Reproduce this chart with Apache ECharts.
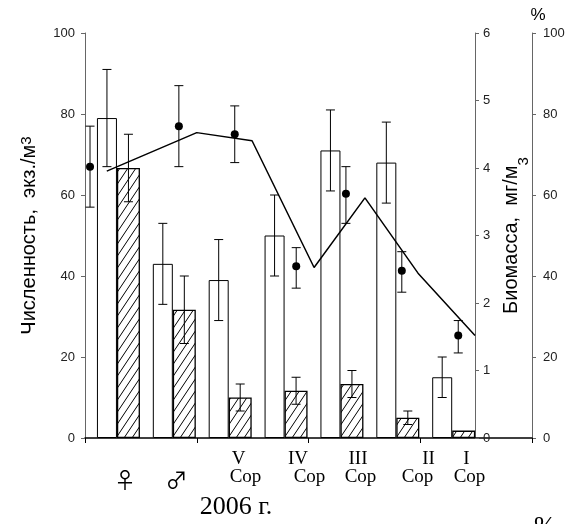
<!DOCTYPE html>
<html>
<head>
<meta charset="utf-8">
<script src="https://cdn.jsdelivr.net/npm/echarts@6/dist/echarts.min.js"></script>
<style>
html,body{margin:0;padding:0;background:#fff;}
#chart{width:565px;height:524px;}
</style>
</head>
<body>
<div id="chart"></div>
<script>
// ---------- data ----------
const categories = ['♀', '♂', 'V Cop', 'IV Cop', 'III Cop', 'II Cop', 'I Cop'];
// abundance, ind./m3 (white bars, left axis)
const abundance = [79, 43, 39, 50, 71, 68, 15];
const abundanceLow = [67, 33, 29, 40, 61, 58, 10];
const abundanceHigh = [91, 53, 49, 60, 81, 78, 20];
// biomass, mg/m3 (hatched bars, biomass axis)
const biomass = [4.0, 1.9, 0.6, 0.7, 0.8, 0.3, 0.11];
const biomassLow = [3.5, 1.4, 0.4, 0.5, 0.6, 0.2, null];
const biomassHigh = [4.5, 2.4, 0.8, 0.9, 1.0, 0.4, null];
// percent (dots with error bars, % axis)
const pointPos = [0.09, 1.68, 2.68, 3.78, 4.67, 5.67, 6.68];
const pointPct = [67, 77, 75, 42.4, 60.3, 41.3, 25.3];
const pointLow = [57, 67, 68, 37, 53, 36, 21];
const pointHigh = [77, 87, 82, 47, 67, 46, 29];
// percent line
const linePos = [0.39, 2.0, 2.99, 4.1, 5.01, 5.96, 6.98];
const linePct = [65.9, 75.4, 73.4, 42.1, 59.3, 40.7, 25.3];
// axis ticks
const leftTicks = {min: 0, max: 100, interval: 20};
const bioTicks = {min: 0, max: 6, interval: 1};
const pctTicks = {min: 0, max: 100, interval: 20};

// ---------- layout / style ----------
const SANS = 'Liberation Sans, Arial, sans-serif';
const SERIF = 'Liberation Serif, Times New Roman, serif';
const spacerW = 11, whiteW = 20, hatchW = 23;
const totalW = spacerW + whiteW + hatchW;
const whiteOff = -totalW / 2 + spacerW + whiteW / 2;
const hatchOff = -totalW / 2 + spacerW + whiteW + hatchW / 2;

function makeHatch() {
  const w = 8, h = 12;
  const c = document.createElement('canvas');
  c.width = w; c.height = h;
  const ctx = c.getContext('2d');
  ctx.fillStyle = '#fff';
  ctx.fillRect(0, 0, w, h);
  ctx.strokeStyle = '#000';
  ctx.lineWidth = 1;
  ctx.beginPath();
  for (let k = -1; k <= 1; k++) {
    ctx.moveTo(k * w, h);
    ctx.lineTo(k * w + w, 0);
  }
  ctx.stroke();
  return c;
}

function errRender(off, cap) {
  return function (params, api) {
    const lo = api.value(1), hi = api.value(2);
    if (lo == null || isNaN(lo)) return null;
    const x = api.coord([api.value(0), 0])[0] + off;
    const yl = api.coord([api.value(0), lo])[1];
    const yh = api.coord([api.value(0), hi])[1];
    const st = {stroke: '#000', lineWidth: 1};
    return {type: 'group', children: [
      {type: 'line', shape: {x1: x, y1: yl, x2: x, y2: yh}, style: st},
      {type: 'line', shape: {x1: x - cap / 2, y1: yh, x2: x + cap / 2, y2: yh}, style: st},
      {type: 'line', shape: {x1: x - cap / 2, y1: yl, x2: x + cap / 2, y2: yl}, style: st}
    ]};
  };
}

const chart = echarts.init(document.getElementById('chart'), null, {renderer: 'canvas'});

const axisLabelStyle = {fontFamily: SANS, fontSize: 13, color: '#222'};

// category label graphics
const romanX = [null, null, 238.5, 298, 358, 428.5, 466.5];
const lowerX = [125, 176.5, 245.5, 309.5, 360.5, 417.5, 469.5];
const graphics = [];
categories.forEach(function (c, i) {
  const parts = c.split(' ');
  if (parts.length === 2) {
    graphics.push({type: 'text', x: romanX[i], y: 459, style: {text: parts[0], font: '19px ' + SERIF, fill: '#000', align: 'center', verticalAlign: 'middle'}});
    graphics.push({type: 'text', x: lowerX[i], y: 477, style: {text: parts[1], font: '19px ' + SERIF, fill: '#000', align: 'center', verticalAlign: 'middle'}});
  } else {
    graphics.push({type: 'text', x: lowerX[i], y: 480, style: {text: parts[0], font: '22px Noto Sans CJK JP, DejaVu Sans, sans-serif', fill: '#000', align: 'center', verticalAlign: 'middle'}});
  }
});
graphics.push({type: 'text', x: 236, y: 507, style: {text: '2006 г.', font: '26px ' + SERIF, fill: '#000', align: 'center', verticalAlign: 'middle'}});
graphics.push({type: 'text', x: 534, y: 514, style: {text: '%', font: '26px ' + SERIF, fill: '#000', align: 'left', verticalAlign: 'top'}});

const option = {
  animation: false,
  backgroundColor: '#fff',
  grid: {left: 85, right: 33, top: 33, bottom: 86, containLabel: false, outerBoundsMode: 'none'},
  graphic: graphics,
  xAxis: [
    {
      type: 'category', data: categories.concat(['']), boundaryGap: true,
      axisLine: {lineStyle: {color: '#000', width: 1.5}},
      axisTick: {show: true, interval: 1, length: 5, lineStyle: {color: '#000'}},
      axisLabel: {show: false}, splitLine: {show: false}
    },
    {type: 'value', min: 0, max: categories.length + 1, show: false}
  ],
  yAxis: [
    {
      type: 'value', position: 'left', min: leftTicks.min, max: leftTicks.max, interval: leftTicks.interval,
      name: 'Численность,  экз./м{s|3}', nameLocation: 'middle', nameGap: 46, nameRotate: 90,
      nameTextStyle: {fontFamily: SANS, fontSize: 20, color: '#000',
        rich: {s: {fontFamily: SANS, fontSize: 15, verticalAlign: 'top', lineHeight: 12, color: '#000'}}},
      axisLine: {show: true, lineStyle: {color: '#666'}},
      axisTick: {show: true, length: 4, lineStyle: {color: '#666'}},
      axisLabel: Object.assign({margin: 10}, axisLabelStyle),
      splitLine: {show: false}
    },
    {
      type: 'value', position: 'right', offset: -57, min: bioTicks.min, max: bioTicks.max, interval: bioTicks.interval,
      name: '{m|Биомасса,  мг/м}{s|3}', nameLocation: 'middle', nameGap: 19, nameRotate: 90,
      nameTextStyle: {fontFamily: SANS, fontSize: 20, color: '#000',
        rich: {
          m: {fontFamily: SANS, fontSize: 20, lineHeight: 22, verticalAlign: 'top', color: '#000'},
          s: {fontFamily: SANS, fontSize: 15, lineHeight: 12, padding: [15, 0, 0, 0], verticalAlign: 'top', color: '#000'}
        }},
      axisLine: {show: true, lineStyle: {color: '#666'}},
      axisTick: {show: true, length: 4, lineStyle: {color: '#666'}},
      axisLabel: Object.assign({margin: 8}, axisLabelStyle),
      splitLine: {show: false}
    },
    {
      type: 'value', position: 'right', offset: 0, min: pctTicks.min, max: pctTicks.max, interval: pctTicks.interval,
      name: '%', nameLocation: 'end', nameGap: 9,
      nameTextStyle: {fontFamily: SANS, fontSize: 17, color: '#000', padding: [0, 0, 0, 12]},
      axisLine: {show: true, lineStyle: {color: '#666'}},
      axisTick: {show: true, length: 4, lineStyle: {color: '#666'}},
      axisLabel: Object.assign({margin: 11}, axisLabelStyle),
      splitLine: {show: false}
    }
  ],
  series: [
    {type: 'bar', name: 'spacer', xAxisIndex: 0, yAxisIndex: 0, data: [], barWidth: spacerW, barGap: '0%'},
    {
      type: 'bar', name: 'abundance', xAxisIndex: 0, yAxisIndex: 0, data: abundance,
      barWidth: whiteW, barGap: '0%', z: 1,
      itemStyle: {color: '#fff', borderColor: '#000', borderWidth: 1}
    },
    {
      type: 'bar', name: 'biomass', xAxisIndex: 0, yAxisIndex: 1, data: biomass,
      barWidth: hatchW, barGap: '0%', z: 1,
      itemStyle: {color: {image: makeHatch(), repeat: 'repeat'}, borderColor: '#000', borderWidth: 1.3}
    },
    {
      type: 'custom', name: 'abundanceErr', xAxisIndex: 0, yAxisIndex: 0, z: 3,
      renderItem: errRender(whiteOff, 9),
      data: abundance.map(function (v, i) { return [i, abundanceLow[i], abundanceHigh[i]]; })
    },
    {
      type: 'custom', name: 'biomassErr', xAxisIndex: 0, yAxisIndex: 1, z: 3,
      renderItem: errRender(hatchOff, 9),
      data: biomass.map(function (v, i) { return [i, biomassLow[i] == null ? NaN : biomassLow[i], biomassHigh[i] == null ? NaN : biomassHigh[i]]; })
    },
    {
      type: 'line', name: 'pctLine', xAxisIndex: 1, yAxisIndex: 2, z: 4,
      data: linePos.map(function (x, i) { return [x, linePct[i]]; }),
      symbol: 'none', lineStyle: {color: '#000', width: 1.5}
    },
    {
      type: 'custom', name: 'pctErr', xAxisIndex: 1, yAxisIndex: 2, z: 5,
      renderItem: errRender(0, 9),
      data: pointPos.map(function (x, i) { return [x, pointLow[i], pointHigh[i]]; })
    },
    {
      type: 'scatter', name: 'pct', xAxisIndex: 1, yAxisIndex: 2, z: 6,
      data: pointPos.map(function (x, i) { return [x, pointPct[i]]; }),
      symbol: 'circle', symbolSize: 8, itemStyle: {color: '#000', opacity: 1}
    }
  ]
};
chart.setOption(option);
</script>
</body>
</html>
